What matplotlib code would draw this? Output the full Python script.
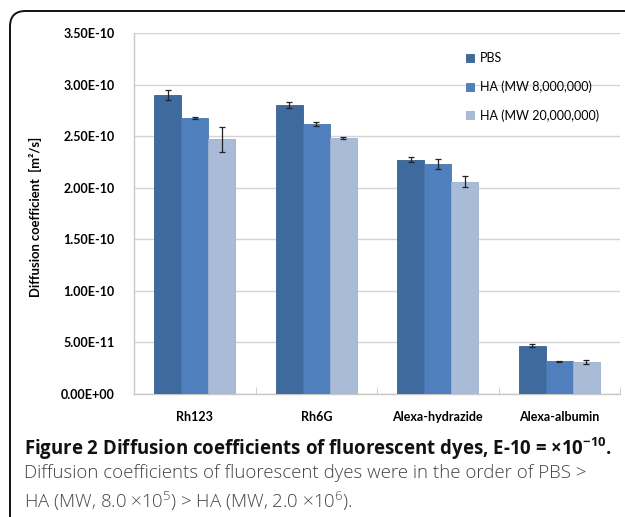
import matplotlib
matplotlib.use("Agg")
import matplotlib.pyplot as plt
import numpy as np
from matplotlib.patches import FancyBboxPatch
from matplotlib.ticker import FuncFormatter, MultipleLocator

plt.rcParams['font.family'] = ['Lato', 'DejaVu Sans']
plt.rcParams['mathtext.fontset'] = 'custom'
plt.rcParams['mathtext.rm'] = 'Open Sans'
plt.rcParams['mathtext.bf'] = 'Open Sans:bold'
plt.rcParams['mathtext.default'] = 'regular'

categories = ["Rh123", "Rh6G", "Alexa-hydrazide", "Alexa-albumin"]
series = ["PBS", "HA (MW 8,000,000)", "HA (MW 20,000,000)"]
pbs = [2.90e-10, 2.80e-10, 2.27e-10, 0.47e-10]
ha8 = [2.68e-10, 2.62e-10, 2.23e-10, 0.317e-10]
ha20 = [2.47e-10, 2.48e-10, 2.06e-10, 0.307e-10]
pbs_err = [0.045e-10, 0.03e-10, 0.025e-10, 0.01e-10]
ha8_err = [0.01e-10, 0.02e-10, 0.045e-10, 0.004e-10]
ha20_err = [0.12e-10, 0.01e-10, 0.055e-10, 0.02e-10]
colors = ["#3F6A9E", "#4F80BD", "#AABBD8"]
edges = ["#38608F", "#4877AE", "#9EB0CF"]

W, H = 625, 517
fig = plt.figure(figsize=(W / 100, H / 100), dpi=100)
ax = fig.add_axes([134 / W, 123 / H, (620 - 134) / W, (394 - 33) / H])

x = np.arange(len(categories))
bw = 1 / 4.5
vals = [pbs, ha8, ha20]
errs = [pbs_err, ha8_err, ha20_err]
for i, (v, e) in enumerate(zip(vals, errs)):
    pos = x + (i - 1) * bw
    ax.bar(pos, v, width=bw, color=colors[i], edgecolor=edges[i], linewidth=0.6,
           label=series[i], zorder=3)
    ax.errorbar(pos, v, yerr=e, fmt='none', ecolor='#222222', elinewidth=0.9,
                capsize=2.2, capthick=0.9, zorder=4)

ax.set_xlim(-0.5, len(categories) - 0.5)
ax.set_ylim(0, 3.5e-10)
ax.yaxis.set_major_locator(MultipleLocator(0.5e-10))
ax.yaxis.set_major_formatter(FuncFormatter(lambda v, p: f"{v:.2E}"))
ax.grid(axis='y', color='#D4D4D4', linewidth=1.0, zorder=0)
ax.set_axisbelow(True)
for s in ['top', 'right']:
    ax.spines[s].set_visible(False)
ax.spines['left'].set_color('#C8C8C8')
ax.spines['bottom'].set_color('#C8C8C8')
ax.spines['left'].set_linewidth(1.0)
ax.spines['bottom'].set_linewidth(1.0)

ax.set_xticks(x)
ax.set_xticklabels(categories, fontweight='bold', fontsize=9)
ax.tick_params(axis='x', length=0, pad=12)
ax.set_xticks(np.arange(len(categories) + 1) - 0.5, minor=True)
ax.tick_params(axis='x', which='minor', direction='in', length=5, color='#C8C8C8')
ax.tick_params(axis='y', length=0, pad=14, labelsize=9)
for t in ax.get_yticklabels():
    t.set_fontweight('bold')

ax.set_ylabel("Diffusion coefficient  [m²/s]", fontweight='bold', fontsize=9.4)
ax.yaxis.set_label_coords(-0.19, 0.49)

leg = ax.legend(loc='upper left', bbox_to_anchor=(455 / W, 1 - 41 / H),
                bbox_transform=fig.transFigure, frameon=False, fontsize=9,
                handlelength=0.6, handleheight=0.6, handletextpad=0.5,
                labelspacing=1.3)

# frame
frame = FancyBboxPatch((10 / W, -20 / H), (W + 30) / W, (H - 11 + 20) / H,
                       boxstyle="round,pad=0,rounding_size=0.025",
                       transform=fig.transFigure, fill=False, edgecolor='#111111',
                       linewidth=1.4, clip_on=False, mutation_aspect=W / H)
fig.add_artist(frame)

fig.text(24 / W, 1 - 449 / H,
         r"Figure 2 Diffusion coefficients of fluorescent dyes, E-10 = ×10$\mathbf{^{-10}}$.",
         fontsize=13.4, fontweight='bold', family='Open Sans', va='center',
         color='#111111')
fig.text(24 / W, 1 - 473.5 / H,
         "Diffusion coefficients of fluorescent dyes were in the order of PBS >",
         fontsize=13.4, family='Open Sans', fontweight='light', va='center',
         color='#444444')
fig.text(24 / W, 1 - 501.5 / H,
         r"HA (MW, 8.0 ×10$^{5}$) > HA (MW, 2.0 ×10$^{6}$).",
         fontsize=13.4, family='Open Sans', fontweight='light', va='center',
         color='#444444')

fig.savefig("out.png", dpi=100)
